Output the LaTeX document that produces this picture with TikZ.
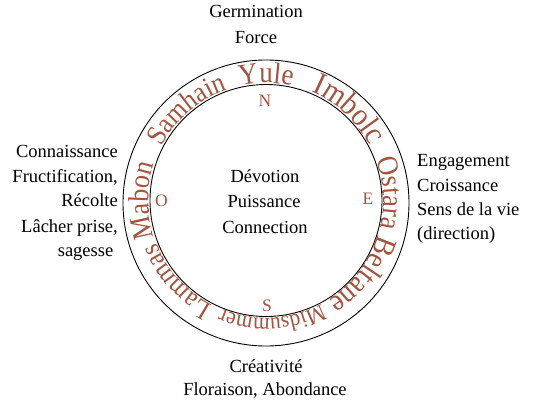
\documentclass[tikz,border=0pt]{standalone}
\usepackage{fontspec}
\setmainfont{Liberation Serif}
\newfontfamily\ringfont[FakeStretch=0.9]{Liberation Serif}
\usetikzlibrary{decorations.text}
\definecolor{brn}{RGB}{162,84,64}
\newcommand\ringword[3]{%
  \path[shift={(266,199.5)}, decorate,
    decoration={text along path, text align=center, text color=brn,
      text={|\ringfont\fontsize{#2}{#2}\selectfont|#3}}]
    ({#1+80}:117.5) arc[start angle={#1+80}, end angle={#1-80}, radius=117.5];}
\begin{document}
\begin{tikzpicture}[x=1pt,y=1pt,
  lbl/.style={font=\fontsize{18.5}{22}\selectfont, inner sep=0pt},
  cmp/.style={font=\fontsize{17.5}{19}\selectfont, text=brn, inner sep=0pt},
  ring/.style={line width=0.9pt}]
\useasboundingbox (0,0) rectangle (540,400);
\coordinate (oc) at (266,197);
\coordinate (ic) at (266,199.5);
\draw[ring] (oc) circle[radius=143];
\draw[ring] (ic) circle[radius=116];

\ringword{90}{30}{Yule}
\ringword{131}{28.5}{Samhain}
\ringword{47.5}{32}{Imbolc}
\ringword{3.5}{29.5}{Ostara}
\ringword{-37.5}{31}{Beltane}
\ringword{-87}{23.5}{Midsummer}
\ringword{-138}{27.5}{Lammas}
\ringword{180}{29}{Mabon}

% compass
\node[cmp] (n) at (265,299) {N};
\node[cmp] (o) at (161.5,199.5) {O};
\node[cmp] (e) at (368,201) {E};
\node[cmp] (s) at (267,94) {S};

% top
\node[lbl, anchor=base] (t1) at (256,382) {Germination};
\node[lbl, anchor=base] (t2) at (256,356) {Force};
% left
\node[lbl, anchor=base east] (l1) at (118,243) {Connaissance};
\node[lbl, anchor=base east] (l2) at (118,218) {Fructification,};
\node[lbl, anchor=base east] (l3) at (118,194) {Récolte};
\node[lbl, anchor=base east] (l4) at (118,168) {Lâcher prise,};
\node[lbl, anchor=base east] (l5) at (113.5,144) {sagesse};
% right
\node[lbl, anchor=base west] (r1) at (417,234) {Engagement};
\node[lbl, anchor=base west] (r2) at (417,209) {Croissance};
\node[lbl, anchor=base west] (r3) at (417,185) {Sens de la vie};
\node[lbl, anchor=base west] (r4) at (417,161) {(direction)};
% centre
\node[lbl, anchor=base] (c1) at (265,218) {Dévotion};
\node[lbl, anchor=base] (c2) at (264,193) {Puissance};
\node[lbl, anchor=base] (c3) at (265,167) {Connection};
% bottom
\node[lbl, anchor=base] (b1) at (266,28) {Créativité};
\node[lbl, anchor=base] (b2) at (265,4.5) {Floraison, Abondance};
\end{tikzpicture}
\end{document}
